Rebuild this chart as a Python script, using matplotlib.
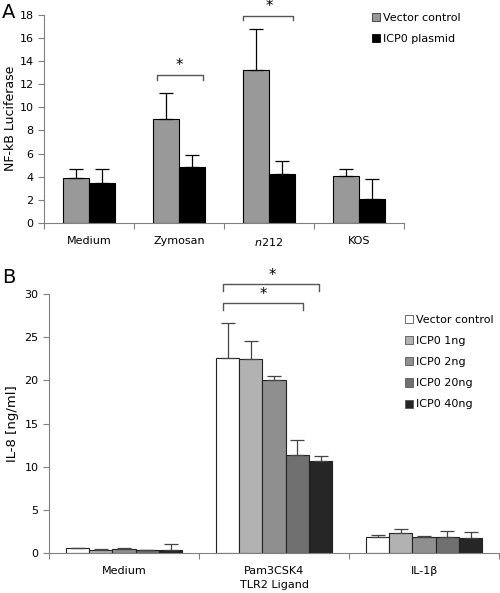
import numpy as np
import matplotlib
matplotlib.use("Agg")
import matplotlib.pyplot as plt
from matplotlib.patches import Patch

# panel A data
cats_a = ["Medium", "Zymosan", "$\\mathit{n}$212", "KOS"]
vector_a = [3.9, 8.95, 13.25, 4.1]
vector_a_err = [0.8, 2.25, 3.5, 0.55]
icp0_a = [3.45, 4.8, 4.25, 2.1]
icp0_a_err = [1.2, 1.1, 1.1, 1.7]

# panel B data
cats_b = ["Medium", "Pam3CSK4\nTLR2 Ligand", "IL-1\u03b2"]
series_b = ["Vector control", "ICP0 1ng", "ICP0 2ng", "ICP0 20ng", "ICP0 40ng"]
vals_b = [
    [0.55, 22.6, 1.85],
    [0.4, 22.5, 2.35],
    [0.5, 20.0, 1.9],
    [0.35, 11.4, 1.85],
    [0.4, 10.6, 1.75],
]
errs_b = [
    [0.08, 4.0, 0.25],
    [0.05, 2.1, 0.4],
    [0.06, 0.45, 0.1],
    [0.04, 1.7, 0.65],
    [0.7, 0.65, 0.65],
]
colors_b = ["#ffffff", "#b2b2b2", "#8f8f8f", "#707070", "#262626"]

plt.rcParams['font.family'] = ['DejaVu Sans']
fig = plt.figure(figsize=(5, 5.93), dpi=100)
spine_col = "#808080"


def style_axes(ax, n):
    for s in ["top", "right"]:
        ax.spines[s].set_visible(False)
    for s in ["left", "bottom"]:
        ax.spines[s].set_color(spine_col)
    ax.set_xlim(-0.5, n - 0.5)
    ax.set_xticks(np.arange(n + 1) - 0.5)
    ax.set_xticklabels([])
    ax.tick_params(axis="x", which="major", direction="out", length=4, color=spine_col)
    ax.tick_params(axis="y", direction="out", length=4, color=spine_col, labelsize=8)
    ax.set_xticks(np.arange(n), minor=True)
    ax.tick_params(axis="x", which="minor", length=0, labelsize=8, pad=9)


def bracket(ax, x0, x1, y, h, col, star_x, star_y):
    ax.plot([x0, x0, x1, x1], [y - h, y, y, y - h], color=col, lw=1, clip_on=False)
    ax.text(star_x, star_y, "*", ha="center", va="center", fontsize=10.5, clip_on=False)


# ---- panel A ----
axa = fig.add_axes([44 / 500, 1 - 223 / 593, 360 / 500, 208.5 / 593])
x = np.arange(len(cats_a))
w = 0.29
axa.bar(x - w / 2, vector_a, w, color="#999999", edgecolor="black", lw=0.8,
        yerr=[np.zeros(4), vector_a_err], capsize=5,
        error_kw=dict(ecolor="black", elinewidth=0.9, capthick=0.9))
axa.bar(x + w / 2, icp0_a, w, color="black", edgecolor="black", lw=0.8,
        yerr=[np.zeros(4), icp0_a_err], capsize=5,
        error_kw=dict(ecolor="black", elinewidth=0.9, capthick=0.9))
style_axes(axa, 4)
axa.set_xticklabels(cats_a, minor=True)
axa.set_ylim(0, 18)
axa.set_yticks(np.arange(0, 19, 2))
axa.set_ylabel("NF-kB Luciferase", fontsize=9, labelpad=2)
bracket(axa, 1 - 0.25, 1 + 0.27, 12.75, 0.4, "#555555", 1.0, 13.6)
bracket(axa, 2 - 0.29, 2 + 0.27, 17.9, 0.4, "#555555", 2.0, 18.7)
fig.legend(handles=[Patch(facecolor="#999999", edgecolor="#333333", lw=0.6),
                    Patch(facecolor="black", edgecolor="black", lw=0.6)],
           labels=["Vector control", "ICP0 plasmid"],
           loc="upper left", bbox_to_anchor=(372 / 500, 1 - 13 / 593),
           frameon=False, fontsize=8, handlelength=0.75, handleheight=0.75,
           handletextpad=0.25, labelspacing=0.95, borderpad=0, borderaxespad=0)
fig.text(0.004, 0.995, "A", fontsize=14, ha="left", va="top")

# ---- panel B ----
axb = fig.add_axes([49 / 500, 1 - 553 / 593, 450 / 500, 259 / 593])
xb = np.arange(len(cats_b))
wb = 0.155
for i in range(len(series_b)):
    axb.bar(xb + (i - 2) * wb, vals_b[i], wb, color=colors_b[i], edgecolor="#222222",
            lw=0.8, yerr=[np.zeros(3), errs_b[i]], capsize=5,
            error_kw=dict(ecolor="#444444", elinewidth=0.9, capthick=0.9))
style_axes(axb, 3)
axb.set_xticklabels(cats_b, minor=True, linespacing=1.6)
axb.set_ylim(0, 30)
axb.set_yticks(np.arange(0, 31, 5))
axb.set_ylabel("IL-8 [ng/ml]", fontsize=9.5, labelpad=4)
bracket(axb, 1 - 0.342, 1 + 0.3, 31.2, 0.8, "#555555", 0.99, 32.1)
bracket(axb, 1 - 0.342, 1 + 0.19, 29.0, 0.8, "#555555", 0.93, 29.9)
fig.legend(handles=[Patch(facecolor=c, edgecolor="#555555", lw=0.6) for c in colors_b],
           labels=series_b,
           loc="upper left", bbox_to_anchor=(405 / 500, 1 - 315 / 593),
           frameon=False, fontsize=8, handlelength=0.75, handleheight=0.75,
           handletextpad=0.25, labelspacing=1.0, borderpad=0, borderaxespad=0)
fig.text(0.004, 1 - 268 / 593, "B", fontsize=14, ha="left", va="top")

fig.savefig("out.png", dpi=100)
